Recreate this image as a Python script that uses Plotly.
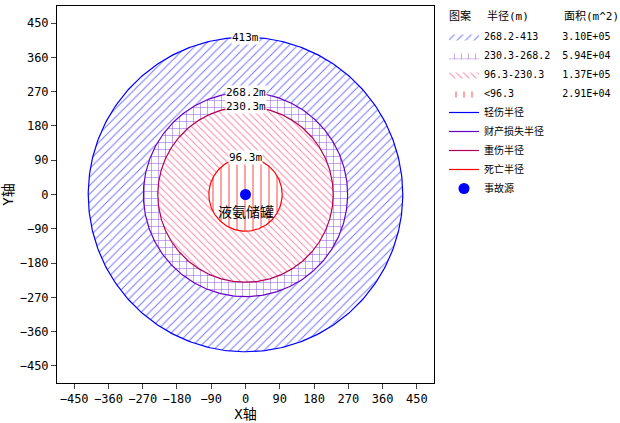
import numpy as np
import plotly.graph_objects as go

# zone radii (m), largest first
radii = [413.0, 268.2, 230.3, 96.3]
range_labels = ["268.2-413", "230.3-268.2", "96.3-230.3", "<96.3"]
area_labels = ["3.10E+05", "5.94E+04", "1.37E+05", "2.91E+04"]
line_names = ["轻伤半径", "财产损失半径", "重伤半径", "死亡半径"]
ticks = [-450, -360, -270, -180, -90, 0, 90, 180, 270, 360, 450]
source_x = [0]
source_y = [0]

line_colors = ["#0000FF", "#6600CC", "#B0005A", "#FF0000"]
pattern_shapes = ["/", "+", "\\", "|"]
pattern_colors = ["#7878FF", "#9560DC", "#FF80A4", "#FF5A5A"]
pattern_sizes = [6, 7, 5, 8]
pattern_solidity = [0.17, 0.15, 0.18, 0.14]

W, H = 620, 423
L, R, T, B = 57, 434, 6, 383

theta = np.linspace(0, 2 * np.pi, 361)


def px(x):
    return (x - L) / (R - L)


def py(y):
    return (B - y) / (B - T)


fig = go.Figure()

# filled zones, drawn big to small so each covers the one below
for r, lab, area, shp, pc, ps, sol in zip(radii, range_labels, area_labels,
                                          pattern_shapes, pattern_colors,
                                          pattern_sizes, pattern_solidity):
    name = lab.ljust(13).replace(" ", "\u00a0").replace("<", "&lt;") + area
    fig.add_trace(go.Scatter(
        x=r * np.cos(theta), y=r * np.sin(theta),
        mode="lines", fill="toself", line=dict(width=0, color=pc),
        fillcolor="white",
        fillpattern=dict(shape=shp, fgcolor=pc, bgcolor="white", size=ps,
                         solidity=sol, fillmode="replace"),
        name=name, hoverinfo="skip"))

# circle outlines
for r, nm, lc in zip(radii, line_names, line_colors):
    fig.add_trace(go.Scatter(
        x=r * np.cos(theta), y=r * np.sin(theta), mode="lines",
        line=dict(color=lc, width=1.2), name=nm, hoverinfo="skip"))

fig.add_trace(go.Scatter(
    x=source_x, y=source_y, mode="markers",
    marker=dict(color="#0000FF", size=11), name="事故源"))

# radius labels on top of each circle
for r in radii:
    fig.add_annotation(x=0, y=r, text=f"{r:g}m", showarrow=False,
                       bgcolor="white", borderpad=0,
                       font=dict(size=11, color="black"))

fig.add_annotation(x=0, y=-45, text="液氨储罐", showarrow=False,
                   font=dict(size=14, color="black"))

# legend header
for x, txt in [(447, "图案"), (485, "半径(m)"), (562, "面积(m^2)")]:
    fig.add_annotation(x=px(x), y=py(16), xref="paper", yref="paper",
                       xanchor="left", yanchor="middle", text=txt,
                       showarrow=False, font=dict(size=11, color="black"))

axis_common = dict(range=[-495, 495], tickvals=ticks, ticks="outside",
                   ticklen=5, showline=True, linecolor="black", linewidth=1,
                   mirror=True, showgrid=False, zeroline=False,
                   automargin=False, tickfont=dict(size=12, color="black"))

fig.update_layout(
    width=W, height=H,
    margin=dict(l=L, r=W - R, t=T, b=H - B, autoexpand=False),
    paper_bgcolor="white", plot_bgcolor="white",
    font=dict(family="DejaVu Sans Mono, Noto Sans CJK SC", size=12, color="black"),
    xaxis=dict(title=dict(text="X轴", standoff=2), **axis_common),
    yaxis=dict(title=dict(text="Y轴", standoff=4), **axis_common),
    showlegend=True,
    legend=dict(x=px(444), y=py(22), xanchor="left", yanchor="top",
                bgcolor="rgba(0,0,0,0)", itemwidth=30, tracegroupgap=0,
                font=dict(size=10, family="DejaVu Sans Mono, Noto Sans CJK SC")),
)

# the page body has an 8px default margin; drop it so the chart fills the window
fig.write_html("out.html", config={"displayModeBar": False},
               post_script="document.body.style.margin='0';")
